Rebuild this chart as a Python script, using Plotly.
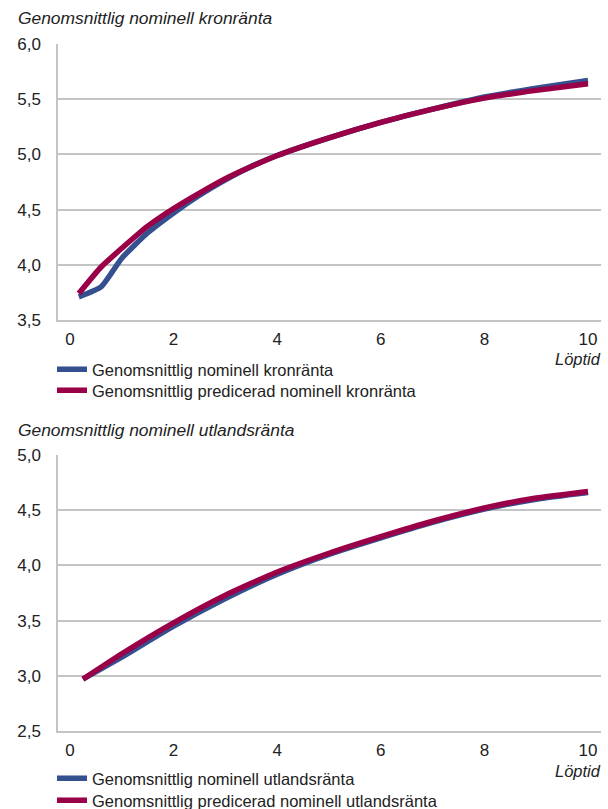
import plotly.graph_objects as go
from plotly.subplots import make_subplots

# ---- data ----
mat_kr = [0.17, 0.6, 1, 1.5, 2, 2.5, 3, 3.5, 4, 5, 6, 7, 8, 9, 10]
kr_actual = [3.71, 3.80, 4.06, 4.29, 4.47, 4.63, 4.77, 4.89, 4.99, 5.15, 5.29, 5.41, 5.52, 5.60, 5.67]
kr_pred = [3.74, 3.98, 4.15, 4.35, 4.51, 4.65, 4.78, 4.89, 4.99, 5.15, 5.29, 5.41, 5.51, 5.58, 5.64]

mat_ut = [0.25, 1, 2, 3, 4, 5, 6, 7, 8, 9, 10]
ut_actual = [2.97, 3.17, 3.45, 3.70, 3.92, 4.10, 4.25, 4.39, 4.51, 4.60, 4.66]
ut_pred = [2.97, 3.20, 3.48, 3.73, 3.94, 4.11, 4.26, 4.40, 4.52, 4.61, 4.67]

x_ticks = [0, 2, 4, 6, 8, 10]
title_kr = "Genomsnittlig nominell kronränta"
title_ut = "Genomsnittlig nominell utlandsränta"
names_kr = ["Genomsnittlig nominell kronränta", "Genomsnittlig predicerad nominell kronränta"]
names_ut = ["Genomsnittlig nominell utlandsränta", "Genomsnittlig predicerad nominell utlandsränta"]
x_title = "Löptid"

BLUE = "#34508f"
RED = "#990047"
GRID = "#c4c4c4"
TXT = "#222222"
FONT = "Liberation Sans"

W, H = 608, 809
L, R, T, B = 58, 7, 44, 78
PW, PH = W - L - R, H - T - B


def px(x):
    return (x - L) / PW


def py(y):
    return (H - B - y) / PH


fig = make_subplots(rows=2, cols=1, vertical_spacing=0.0)

LW = 5.5
fig.add_trace(go.Scatter(x=mat_kr, y=kr_actual, mode="lines", name=names_kr[0],
                         line=dict(color=BLUE, width=LW, shape="spline", smoothing=0.5),
                         legend="legend"), row=1, col=1)
fig.add_trace(go.Scatter(x=mat_kr, y=kr_pred, mode="lines", name=names_kr[1],
                         line=dict(color=RED, width=LW, shape="spline", smoothing=0.5),
                         legend="legend2"), row=1, col=1)
fig.add_trace(go.Scatter(x=mat_ut, y=ut_actual, mode="lines", name=names_ut[0],
                         line=dict(color=BLUE, width=LW, shape="spline", smoothing=0.5),
                         legend="legend3"), row=2, col=1)
fig.add_trace(go.Scatter(x=mat_ut, y=ut_pred, mode="lines", name=names_ut[1],
                         line=dict(color=RED, width=LW, shape="spline", smoothing=0.5),
                         legend="legend4"), row=2, col=1)

xr = [-12 / 51.8, 10 + 13 / 51.8]
xcommon = dict(range=xr, tickvals=x_ticks, showgrid=False, zeroline=False,
               showline=True, linecolor=GRID, linewidth=1.5, ticks="outside",
               tickcolor="rgba(0,0,0,0)", ticklen=3,
               tickfont=dict(family=FONT, size=17, color=TXT))
ycommon = dict(dtick=0.5, tickformat=".1f", showgrid=True, gridcolor=GRID, gridwidth=1.5,
               zeroline=False, showline=True, linecolor=GRID, linewidth=1.5,
               ticklabelstandoff=12,
               tickfont=dict(family=FONT, size=17, color=TXT))

fig.update_layout(
    xaxis=dict(domain=[0, 1], anchor="y", **xcommon),
    yaxis=dict(domain=[py(320), py(44)], range=[3.5, 6.0], anchor="x", **ycommon),
    xaxis2=dict(domain=[0, 1], anchor="y2", **xcommon),
    yaxis2=dict(domain=[py(731), py(455)], range=[2.5, 5.0], anchor="x2", **ycommon),
)

leg = dict(font=dict(family=FONT, size=16.5, color=TXT), xanchor="left", yanchor="top",
           bgcolor="rgba(0,0,0,0)", itemwidth=30)
fig.update_layout(
    showlegend=True,
    legend=dict(x=px(52), y=py(352), **leg),
    legend2=dict(x=px(52), y=py(373), **leg),
    legend3=dict(x=px(52), y=py(761), **leg),
    legend4=dict(x=px(52), y=py(783), **leg),
)

ann_font_i = dict(family=FONT, size=17.4, color=TXT, style="italic")
ax_font_i = dict(family=FONT, size=16.5, color=TXT, style="italic")
fig.add_annotation(text=title_kr, xref="paper", yref="paper", x=px(16), y=py(18),
                   xanchor="left", yanchor="middle", showarrow=False, font=ann_font_i)
fig.add_annotation(text=title_ut, xref="paper", yref="paper", x=px(16), y=py(430),
                   xanchor="left", yanchor="middle", showarrow=False, font=ann_font_i)
fig.add_annotation(text=x_title, xref="paper", yref="paper", x=px(603), y=py(359),
                   xanchor="right", yanchor="middle", showarrow=False, font=ax_font_i)
fig.add_annotation(text=x_title, xref="paper", yref="paper", x=px(603), y=py(771),
                   xanchor="right", yanchor="middle", showarrow=False, font=ax_font_i)

fig.update_layout(
    width=W, height=H, margin=dict(l=L, r=R, t=T, b=B, autoexpand=False),
    paper_bgcolor="white", plot_bgcolor="white", separators=", ",
    font=dict(family=FONT, color=TXT),
)

fig.write_html("out.html", config={"displayModeBar": False},
               post_script="document.body.style.margin='0';document.body.style.overflow='hidden';")
